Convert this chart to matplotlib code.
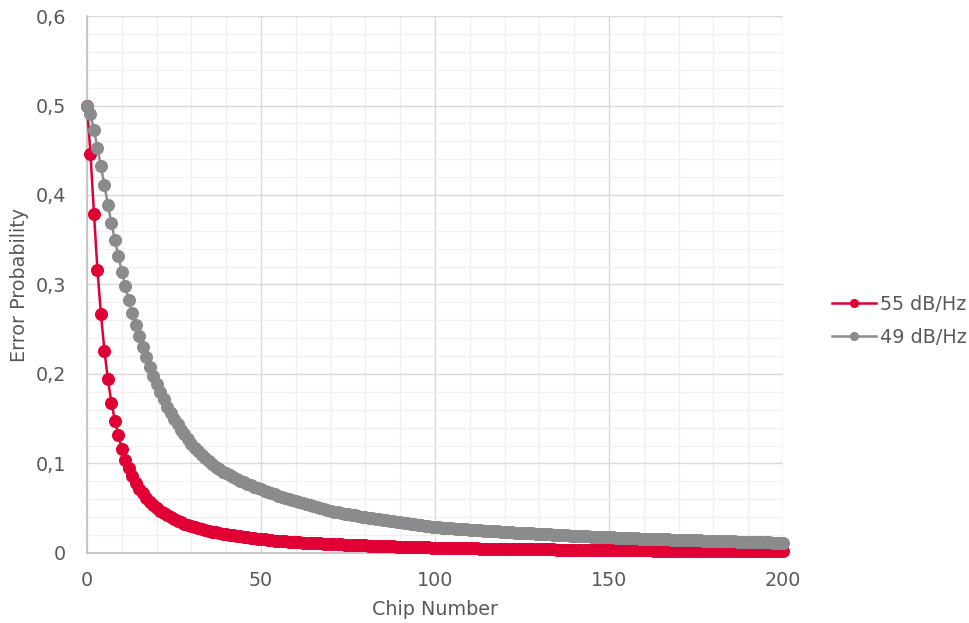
import numpy as np
import matplotlib.pyplot as plt
from matplotlib.ticker import MultipleLocator, FuncFormatter

# chip index 0..200
chips = np.arange(0, 201)

# error probability, 55 dB/Hz
err_55 = [
    0.500, 0.446, 0.379, 0.316, 0.267, 0.226, 0.194, 0.168, 0.148, 0.132,
    0.116, 0.104, 0.0946, 0.0860, 0.0785, 0.0720, 0.0665, 0.0617, 0.0575, 0.0538,
    0.0505, 0.0474, 0.0446, 0.0421, 0.0398, 0.0378, 0.0359, 0.0342, 0.0327, 0.0312,
    0.0299, 0.0287, 0.0276, 0.0266, 0.0256, 0.0247, 0.0239, 0.0231, 0.0224, 0.0217,
    0.0211, 0.0204, 0.0197, 0.0191, 0.0185, 0.0179, 0.0174, 0.0169, 0.0164, 0.0159,
    0.0155, 0.0151, 0.0147, 0.0143, 0.0139, 0.0136, 0.0133, 0.0130, 0.0127, 0.0124,
    0.0121, 0.0119, 0.0116, 0.0114, 0.0112, 0.0110, 0.0108, 0.0106, 0.0104, 0.0102,
    0.0100, 0.0098, 0.0096, 0.0095, 0.0093, 0.0091, 0.0090, 0.0088, 0.0087, 0.0085,
    0.0084, 0.0082, 0.0081, 0.0080, 0.0078, 0.0077, 0.0076, 0.0074, 0.0073, 0.0072,
    0.0071, 0.0070, 0.0068, 0.0067, 0.0066, 0.0065, 0.0064, 0.0063, 0.0062, 0.0061,
    0.0060, 0.0059, 0.0058, 0.0057, 0.0057, 0.0056, 0.0055, 0.0054, 0.0054, 0.0053,
    0.0052, 0.0051, 0.0051, 0.0050, 0.0049, 0.0049, 0.0048, 0.0047, 0.0047, 0.0046,
    0.0046, 0.0045, 0.0045, 0.0044, 0.0044, 0.0043, 0.0043, 0.0042, 0.0042, 0.0041,
    0.0041, 0.0040, 0.0040, 0.0039, 0.0039, 0.0038, 0.0038, 0.0037, 0.0037, 0.0036,
    0.0036, 0.0035, 0.0035, 0.0035, 0.0034, 0.0034, 0.0033, 0.0033, 0.0033, 0.0032,
    0.0032, 0.0031, 0.0031, 0.0031, 0.0030, 0.0030, 0.0030, 0.0029, 0.0029, 0.0029,
    0.0028, 0.0028, 0.0028, 0.0027, 0.0027, 0.0027, 0.0026, 0.0026, 0.0026, 0.0025,
    0.0025, 0.0025, 0.0024, 0.0024, 0.0024, 0.0024, 0.0023, 0.0023, 0.0023, 0.0022,
    0.0022, 0.0022, 0.0022, 0.0021, 0.0021, 0.0021, 0.0021, 0.0020, 0.0020, 0.0020,
    0.0020, 0.0019, 0.0019, 0.0019, 0.0019, 0.0018, 0.0018, 0.0018, 0.0018, 0.0018,
    0.0017,
]

# error probability, 49 dB/Hz
err_49 = [
    0.500, 0.490, 0.473, 0.452, 0.432, 0.411, 0.389, 0.369, 0.350, 0.332,
    0.314, 0.298, 0.283, 0.2685, 0.255, 0.242, 0.230, 0.219, 0.208, 0.198,
    0.189, 0.180, 0.172, 0.1635, 0.1565, 0.1499, 0.1437, 0.1379, 0.1324, 0.1272,
    0.1223, 0.1177, 0.1134, 0.1094, 0.1057, 0.1023, 0.0991, 0.0961, 0.0933, 0.0910,
    0.0890, 0.0868, 0.0847, 0.0827, 0.0808, 0.0790, 0.0773, 0.0757, 0.0741, 0.0726,
    0.0712, 0.0697, 0.0682, 0.0668, 0.0654, 0.0640, 0.0627, 0.0614, 0.0602, 0.0590,
    0.0578, 0.0566, 0.0554, 0.0543, 0.0532, 0.0521, 0.0510, 0.0500, 0.0490, 0.0480,
    0.0470, 0.0462, 0.0455, 0.0448, 0.0441, 0.0434, 0.0427, 0.0420, 0.0413, 0.0406,
    0.0400, 0.0393, 0.0387, 0.0381, 0.0375, 0.0369, 0.0363, 0.0357, 0.0352, 0.0346,
    0.0341, 0.0335, 0.0330, 0.0325, 0.0320, 0.0315, 0.0310, 0.0305, 0.0300, 0.0295,
    0.0290, 0.0287, 0.0284, 0.0281, 0.0278, 0.0275, 0.0272, 0.0269, 0.0266, 0.0263,
    0.0260, 0.0257, 0.0255, 0.0252, 0.0250, 0.0247, 0.0245, 0.0242, 0.0240, 0.0237,
    0.0235, 0.0233, 0.0231, 0.0228, 0.0226, 0.0224, 0.0222, 0.0220, 0.0218, 0.0215,
    0.0213, 0.0211, 0.0209, 0.0207, 0.0205, 0.0203, 0.0201, 0.0199, 0.0197, 0.0195,
    0.0193, 0.0191, 0.0189, 0.0187, 0.0186, 0.0184, 0.0182, 0.0180, 0.0179, 0.0177,
    0.0175, 0.0173, 0.0172, 0.0170, 0.0169, 0.0167, 0.0166, 0.0164, 0.0163, 0.0161,
    0.0160, 0.0159, 0.0157, 0.0156, 0.0155, 0.0153, 0.0152, 0.0151, 0.0150, 0.0148,
    0.0147, 0.0146, 0.0145, 0.0143, 0.0142, 0.0141, 0.0140, 0.0139, 0.0138, 0.0136,
    0.0135, 0.0134, 0.0133, 0.0132, 0.0131, 0.0130, 0.0129, 0.0128, 0.0127, 0.0125,
    0.0124, 0.0123, 0.0122, 0.0121, 0.0120, 0.0119, 0.0118, 0.0117, 0.0116, 0.0115,
    0.0114,
]

series_labels = ['55 dB/Hz', '49 dB/Hz']
series_colors = ['#E00034', '#8A8B8D']

TEXT = '#595959'
FS = 13.8

plt.rcParams['font.family'] = ['DejaVu Sans']

fig = plt.figure(figsize=(9.69, 6.23), dpi=100)
ax = fig.add_axes([0.0898, 0.1124, 0.7183, 0.8619])

# red first so the gray markers sit on top
handles = []
for vals, lab, col in zip([err_55, err_49], series_labels, series_colors):
    h, = ax.plot(chips, vals, color=col, lw=1.8, marker='o', ms=9.4,
                 mec=col, mew=0, label=lab, clip_on=False, zorder=3)
    handles.append(h)

ax.set_xlim(0, 200)
ax.set_ylim(0, 0.6)
ax.xaxis.set_major_locator(MultipleLocator(50))
ax.xaxis.set_minor_locator(MultipleLocator(10))
ax.yaxis.set_major_locator(MultipleLocator(0.1))
ax.yaxis.set_minor_locator(MultipleLocator(0.02))

def comma_fmt(v, pos):
    if abs(v) < 1e-9:
        return '0'
    return f'{v:.1f}'.replace('.', ',')

ax.yaxis.set_major_formatter(FuncFormatter(comma_fmt))

ax.grid(which='major', color='#D9D9D9', lw=1.0, zorder=0)
ax.grid(which='minor', color='#F0F0F0', lw=1.0, zorder=0)
ax.set_axisbelow(True)

for s in ['top', 'right']:
    ax.spines[s].set_visible(False)
for s in ['left', 'bottom']:
    ax.spines[s].set_color('#BFBFBF')
    ax.spines[s].set_linewidth(1.2)

ax.tick_params(which='both', length=0, colors=TEXT, labelsize=FS)
ax.tick_params(axis='x', pad=13)
ax.tick_params(axis='y', pad=15)

ax.set_xlabel('Chip Number', color=TEXT, fontsize=FS, labelpad=7)
ax.set_ylabel('Error Probability', color=TEXT, fontsize=FS, labelpad=5)

leg = fig.legend(handles=handles, labels=series_labels, loc='center left',
                 bbox_to_anchor=(0.8405, 0.485), frameon=False, fontsize=FS,
                 labelcolor=TEXT, markerscale=0.7, handlelength=2.3,
                 handletextpad=0.2, labelspacing=0.75)
for line in leg.get_lines():
    line.set_linewidth(1.8)

fig.savefig('out.png', dpi=100)
